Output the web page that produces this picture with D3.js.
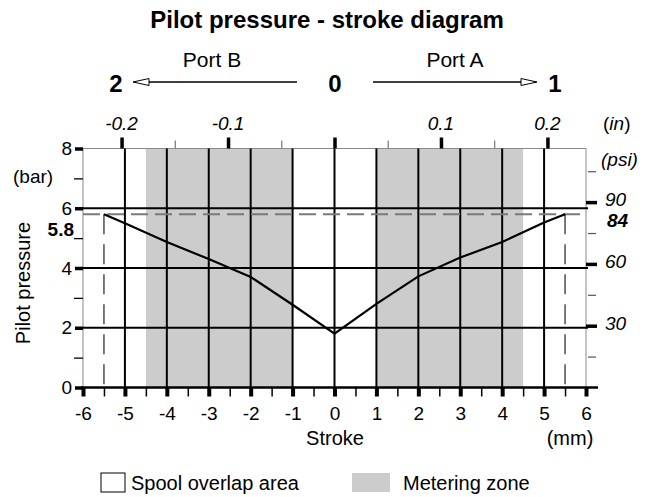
<!DOCTYPE html>
<html>
<head>
<meta charset="utf-8">
<script src="https://cdn.jsdelivr.net/npm/d3@7"></script>
<style>
  html, body { margin: 0; padding: 0; background: #fff; }
  svg { display: block; font-family: "Liberation Sans", Arial, sans-serif; }
</style>
</head>
<body>
<svg id="chart" width="654" height="497"></svg>
<script>
// Pressure curve: stroke (mm) vs pilot pressure (bar)
const strokeMm   = [-5.5, -5, -4, -3, -2, -1, 0, 1, 2, 3, 4, 5, 5.5];
const pressureBar = [5.8, 5.5, 4.87, 4.3, 3.7, 2.77, 1.8, 2.8, 3.72, 4.35, 4.87, 5.52, 5.8];

// Metering zones (mm)
const meteringZones = [[-4.5, -1], [1, 4.5]];

// Axis ticks
const strokeTicks      = [-6, -5, -4, -3, -2, -1, 0, 1, 2, 3, 4, 5, 6];
const strokeMinorTicks = [-5.5, -4.5, -3.5, -2.5, -1.5, -0.5, 0.5, 1.5, 2.5, 3.5, 4.5, 5.5];
const barTicks         = [0, 2, 4, 6, 8];
const barMinorTicks    = [1, 3, 5, 7];
const psiTicks         = [30, 60, 90];
const psiMinorTicks    = [15, 45, 75, 105];
const inchTicks        = [-0.2, -0.1, 0, 0.1, 0.2];
const inchMinorTicks   = [-0.15, -0.05, 0.05, 0.15];
const inchLabels       = [-0.2, -0.1, 0.1, 0.2];
const gridStroke       = [-5, -4, -3, -2, -1, 0, 1, 2, 3, 4, 5];
const gridBar          = [2, 4, 6];

// Marked maximum pressure
const maxBar = 5.8, maxPsi = 84, maxStroke = 5.5;

const MM_PER_IN = 25.4, PSI_PER_BAR = 14.5038;

const svg = d3.select("#chart");
const font = '"Liberation Sans", Arial, sans-serif';

const x = d3.scaleLinear().domain([-6, 6]).range([83, 586]);
const y = d3.scaleLinear().domain([0, 8]).range([387.5, 148.5]);
const xIn = d3.scaleLinear().domain([-6 / MM_PER_IN, 6 / MM_PER_IN]).range(x.range());
const yPsi = d3.scaleLinear().domain([0, 8 * PSI_PER_BAR]).range(y.range());

const x0 = x(-6), x1 = x(6), yTop = y(8), yBot = y(0);

// Title and port direction header
svg.append("text").attr("x", 327).attr("y", 28).attr("text-anchor", "middle")
  .attr("font-size", 24).attr("font-weight", "bold").text("Pilot pressure - stroke diagram");

svg.append("text").attr("x", 212).attr("y", 67).attr("text-anchor", "middle")
  .attr("font-size", 21).text("Port B");
svg.append("text").attr("x", 455).attr("y", 67).attr("text-anchor", "middle")
  .attr("font-size", 21).text("Port A");

const hdr = [{t: "2", cx: 116}, {t: "0", cx: 335}, {t: "1", cx: 555}];
svg.selectAll("text.port").data(hdr).enter().append("text")
  .attr("class", "port")
  .attr("x", d => d.cx).attr("y", 92).attr("text-anchor", "middle")
  .attr("font-size", 24).attr("font-weight", "bold").text(d => d.t);

const arrowY = 82;
svg.append("line").attr("x1", 134).attr("x2", 297).attr("y1", arrowY).attr("y2", arrowY)
  .attr("stroke", "#000").attr("stroke-width", 1.3);
svg.append("path").attr("d", `M133,${arrowY} L149,${arrowY - 3.5} L149,${arrowY + 3.5} Z`)
  .attr("fill", "#fff").attr("stroke", "#000").attr("stroke-width", 1);
svg.append("line").attr("x1", 373).attr("x2", 536).attr("y1", arrowY).attr("y2", arrowY)
  .attr("stroke", "#000").attr("stroke-width", 1.3);
svg.append("path").attr("d", `M537,${arrowY} L521,${arrowY - 3.5} L521,${arrowY + 3.5} Z`)
  .attr("fill", "#fff").attr("stroke", "#000").attr("stroke-width", 1);

// Metering zones
svg.selectAll("rect.zone").data(meteringZones).enter().append("rect")
  .attr("class", "zone")
  .attr("x", d => x(d[0])).attr("width", d => x(d[1]) - x(d[0]))
  .attr("y", yTop).attr("height", yBot - yTop)
  .attr("fill", "#cccccc");

// Plot frame
svg.append("rect").attr("x", x0).attr("y", yTop).attr("width", x1 - x0).attr("height", yBot - yTop)
  .attr("fill", "none").attr("stroke", "#8a8a8a").attr("stroke-width", 1);

// Grid
svg.selectAll("line.gx").data(gridStroke).enter().append("line")
  .attr("x1", d => x(d)).attr("x2", d => x(d)).attr("y1", yTop).attr("y2", yBot)
  .attr("stroke", "#000").attr("stroke-width", 2);
svg.selectAll("line.gy").data(gridBar).enter().append("line")
  .attr("x1", x0).attr("x2", x1 + 2).attr("y1", d => y(d)).attr("y2", d => y(d))
  .attr("stroke", "#000").attr("stroke-width", 2);

// Reference lines at the maximum pressure
svg.append("line").attr("x1", x0).attr("x2", x1).attr("y1", y(maxBar)).attr("y2", y(maxBar))
  .attr("stroke", "#7a7a7a").attr("stroke-width", 2).attr("stroke-dasharray", "17,7");
svg.selectAll("line.vd").data([-maxStroke, maxStroke]).enter().append("line")
  .attr("x1", d => x(d)).attr("x2", d => x(d)).attr("y1", y(maxBar)).attr("y2", yBot)
  .attr("stroke", "#222").attr("stroke-width", 1.2).attr("stroke-dasharray", "20,10");

// Pressure curve
const pts = strokeMm.map((s, i) => [s, pressureBar[i]]);
svg.append("path").datum(pts)
  .attr("d", d3.line().x(d => x(d[0])).y(d => y(d[1])))
  .attr("fill", "none").attr("stroke", "#000").attr("stroke-width", 2.2)
  .attr("stroke-linejoin", "miter");

// Axis helper: style ticks and labels
function styleAxis(g, width, color) {
  g.select(".domain").remove();
  g.selectAll(".tick line").attr("stroke", color).attr("stroke-width", width);
  g.selectAll("text").attr("font-family", font).attr("fill", "#000");
}

// Bottom axis (mm)
svg.append("line").attr("x1", x0 - 2).attr("x2", x1 + 12).attr("y1", yBot).attr("y2", yBot)
  .attr("stroke", "#000").attr("stroke-width", 2.5);
const gB = svg.append("g").attr("transform", `translate(0,${yBot})`)
  .call(d3.axisBottom(x).tickValues(strokeTicks).tickSize(9).tickPadding(10)
    .tickFormat(d => d < 0 ? "-" + Math.abs(d) : String(d)));
styleAxis(gB, 4, "#000");
gB.selectAll("text").attr("font-size", 19);
const gBm = svg.append("g").attr("transform", `translate(0,${yBot})`)
  .call(d3.axisBottom(x).tickValues(strokeMinorTicks).tickSize(9).tickFormat(""));
styleAxis(gBm, 1.5, "#000");

svg.append("text").attr("x", 335).attr("y", 445).attr("text-anchor", "middle")
  .attr("font-size", 20).text("Stroke");
svg.append("text").attr("x", 570).attr("y", 445).attr("text-anchor", "middle")
  .attr("font-size", 20).text("(mm)");

// Left axis (bar)
const gL = svg.append("g").attr("transform", `translate(${x0},0)`)
  .call(d3.axisLeft(y).tickValues(barTicks).tickSize(8).tickPadding(3).tickFormat(d3.format("d")));
styleAxis(gL, 3.5, "#000");
gL.selectAll("text").attr("font-size", 19);
const gLm = svg.append("g").attr("transform", `translate(${x0},0)`)
  .call(d3.axisLeft(y).tickValues(barMinorTicks).tickSize(9).tickFormat(""));
styleAxis(gLm, 1.3, "#000");

svg.append("text").attr("x", 74).attr("y", y(maxBar) + 17).attr("text-anchor", "end")
  .attr("dominant-baseline", "middle").attr("font-size", 19).attr("font-weight", "bold")
  .text(d3.format(".1f")(maxBar));
svg.append("text").attr("x", 13).attr("y", 183).attr("font-size", 19).text("(bar)");
svg.append("text").attr("transform", "translate(30,283) rotate(-90)").attr("text-anchor", "middle")
  .attr("font-size", 20).text("Pilot pressure");

// Right axis (psi)
const gR = svg.append("g").attr("transform", `translate(${x1},0)`)
  .call(d3.axisRight(yPsi).tickValues(psiTicks).tickSize(11).tickPadding(8).tickFormat(d3.format("d")));
styleAxis(gR, 3.5, "#000");
gR.selectAll("text").attr("font-size", 19).attr("font-style", "italic").attr("dy", "0.2em");
const gRm = svg.append("g").attr("transform", `translate(${x1 + 2},0)`)
  .call(d3.axisRight(yPsi).tickValues(psiMinorTicks).tickSize(8).tickFormat(""));
styleAxis(gRm, 1.2, "#555");

svg.append("text").attr("x", 607).attr("y", yPsi(maxPsi) + 8).attr("dominant-baseline", "middle")
  .attr("font-size", 19).attr("font-weight", "bold").attr("font-style", "italic").text(maxPsi);
svg.append("text").attr("x", 601).attr("y", 161).attr("dominant-baseline", "middle")
  .attr("font-size", 19).attr("font-style", "italic").text("(psi)");

// Top axis (in)
const gT = svg.append("g").attr("transform", `translate(0,${yTop})`)
  .call(d3.axisTop(xIn).tickValues(inchTicks).tickSize(11).tickFormat(""));
styleAxis(gT, 3.5, "#000");
const gTm = svg.append("g").attr("transform", `translate(0,${yTop})`)
  .call(d3.axisTop(xIn).tickValues(inchMinorTicks).tickSize(8).tickFormat(""));
styleAxis(gTm, 1.2, "#777");
svg.selectAll("text.inl").data(inchLabels).enter().append("text")
  .attr("class", "inl")
  .attr("x", d => xIn(d)).attr("y", 130).attr("text-anchor", "middle")
  .attr("font-size", 19).attr("font-style", "italic")
  .text(d => (d < 0 ? "-" : "") + d3.format(".1f")(Math.abs(d)));
const inUnit = svg.append("text").attr("x", 603).attr("y", 130).attr("font-size", 19);
inUnit.append("tspan").text("(");
inUnit.append("tspan").attr("font-style", "italic").text("in");
inUnit.append("tspan").text(")");

// Legend
svg.append("rect").attr("x", 101).attr("y", 473).attr("width", 24).attr("height", 19)
  .attr("fill", "#fff").attr("stroke", "#000").attr("stroke-width", 1);
svg.append("text").attr("x", 131).attr("y", 490).attr("font-size", 20).text("Spool overlap area");
svg.append("rect").attr("x", 352).attr("y", 473).attr("width", 38).attr("height", 19)
  .attr("fill", "#cccccc");
svg.append("text").attr("x", 403).attr("y", 490).attr("font-size", 20).text("Metering zone");
</script>
</body>
</html>
